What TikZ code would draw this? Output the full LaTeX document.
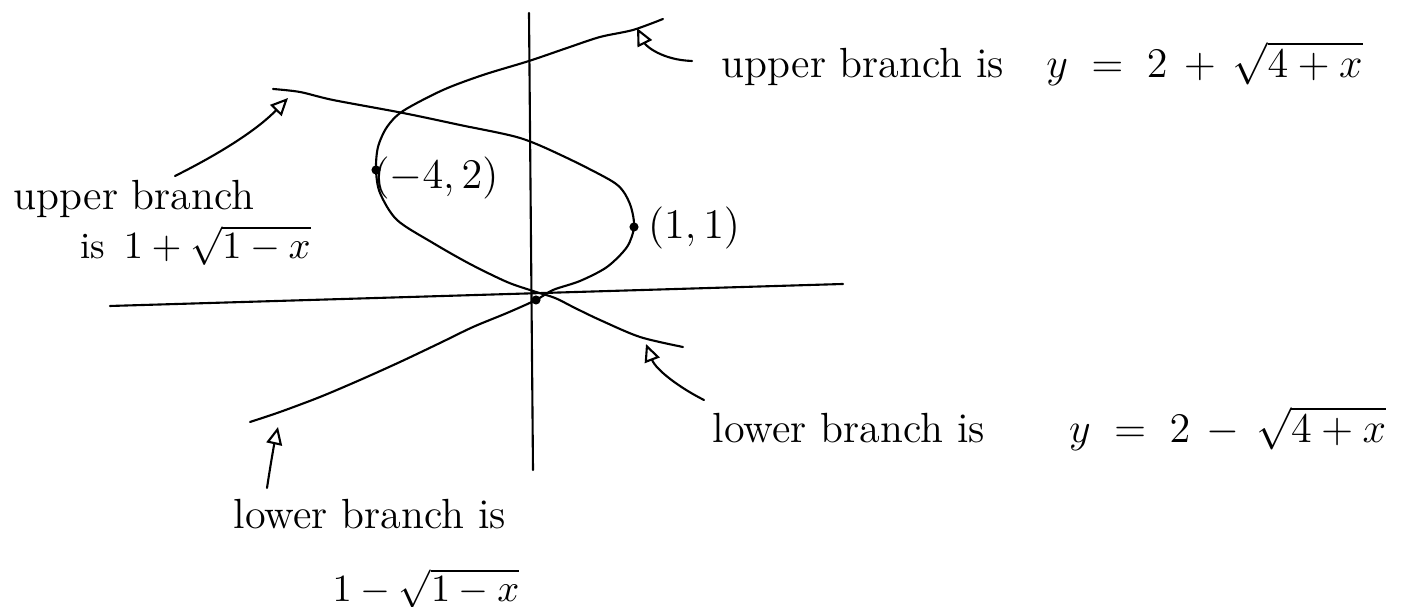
\documentclass[tikz,border=0pt]{standalone}
\usepackage{amsmath}
\usepackage{tikz}
\usetikzlibrary{arrows.meta}
\tikzset{
  sketch/.style={line width=0.6pt,line cap=round,line join=round},
  pointer/.style={sketch,-{Triangle[open,length=5pt,width=4.5pt]}},
  dot/.style={circle,fill=black,inner sep=0pt,minimum size=2.6pt},
  lbl/.style={inner sep=0pt,font=\fontsize{12}{14}\selectfont},
  smlbl/.style={inner sep=0pt,font=\fontsize{10.5}{12}\selectfont}
}

\begin{document}
\begin{tikzpicture}[x=0.1mm,y=-0.1mm]
  \useasboundingbox (0,0) rectangle (1418,607);
  % axes
  \draw[sketch] (110,306) -- (843,284);
  \draw[sketch] (529,13) -- (533,470);
  % x = (y-2)^2 - 4
  \draw[sketch] plot[smooth] coordinates {(663,19) (633,30) (600,37) (567,48) (529,61) (483,75) (443,90) (403,111) (387,127) (378,147) (376,170) (380,193) (397,220) (433,243) (470,264) (507,282) (533,291) (555,298) (575,308) (600,320) (640,337) (683,347)};
  % x = 1 - (y-1)^2
  \draw[sketch] plot[smooth] coordinates {(273,89) (300,92) (333,100) (403,113) (460,125) (520,138) (565,157) (610,180) (623,191) (631,207) (634,227) (627,247) (607,267) (580,281) (553,290) (536,300) (507,313) (473,327) (440,343) (400,362) (360,380) (320,397) (280,412) (250,422)};
  \foreach \n/\x/\y in {vtxA/376/170,vtxB/634/227,orig/536/300}{\node[dot] (\n) at (\x,\y) {};}
  \node[lbl] (vtxAlbl) at (436,178) {$(-4,2)$};
  \node[lbl] (vtxBlbl) at (694,228) {$(1,1)$};
  % branch labels
  \node[lbl,anchor=base west] (urlbl) at (721,78) {upper branch is\quad$y\;=\;2\,+\,\sqrt{4+x}$};
  \node[lbl,anchor=base west] (lrlbl) at (712,443) {lower branch is\qquad$y\;=\;2\,-\,\sqrt{4+x}$};
  \node[lbl,anchor=base west] (ullbl) at (13,210) {upper branch};
  \node[smlbl,anchor=base west] (ullblb) at (80,259) {is\enspace$1+\sqrt{1-x}$};
  \node[lbl,anchor=base west] (lllbl) at (233,529) {lower branch is};
  \node[smlbl,anchor=base] (lllblb) at (426,602) {$1-\sqrt{1-x}$};
  % pointers
  \coordinate (urtail) at (692,61); \coordinate (urtip) at (637,28);
  \coordinate (ultail) at (175,176); \coordinate (ultip) at (288,98);
  \coordinate (lltail) at (267,488); \coordinate (lltip) at (278,427);
  \coordinate (lrtail) at (704,400); \coordinate (lrtip) at (646,344);
  \draw[pointer] (urtail) .. controls (662,60) and (646,46) .. (urtip);
  \draw[pointer] (ultail) .. controls (215,156) and (255,132) .. (ultip);
  \draw[pointer] (lltail) .. controls (270,468) and (274,445) .. (lltip);
  \draw[pointer] (lrtail) .. controls (680,388) and (656,370) .. (lrtip);
\end{tikzpicture}
\end{document}
